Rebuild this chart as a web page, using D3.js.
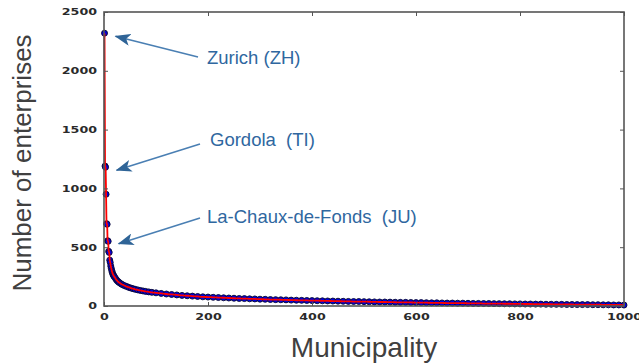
<!DOCTYPE html>
<html>
<head>
<meta charset="utf-8">
<script src="https://cdn.jsdelivr.net/npm/d3@7"></script>
<style>
  html, body { margin: 0; padding: 0; background: #fff; }
  svg { display: block; }
</style>
</head>
<body>
<div id="chart"></div>
<script>
// rank of municipality (sorted by number of enterprises)
const ranks = [
  1, 2, 3, 4, 5, 6, 7, 8, 9, 10, 11, 12, 13, 14, 15, 16, 17, 18, 19, 20,
  22, 24, 26, 28, 30, 33, 36, 40, 44, 48, 52, 56, 60, 65, 70, 75, 80, 86, 92, 100,
  110, 120, 130, 140, 150, 160, 170, 180, 190, 200,
  210, 220, 230, 240, 250, 260, 270, 280, 290, 300,
  310, 320, 330, 340, 350, 360, 370, 380, 390, 400,
  410, 420, 430, 440, 450, 460, 470, 480, 490, 500,
  510, 520, 530, 540, 550, 560, 570, 580, 590, 600,
  610, 620, 630, 640, 650, 660, 670, 680, 690, 700,
  710, 720, 730, 740, 750, 760, 770, 780, 790, 800,
  810, 820, 830, 840, 850, 860, 870, 880, 890, 900,
  910, 920, 930, 940, 950, 960, 970, 980, 990, 1000
];
// number of enterprises for each rank
const enterprises = [
  2320, 1190, 1180, 950, 700, 695, 555, 550, 465, 455, 390, 370, 340, 320, 300, 285, 272, 262, 255, 248,
  235, 222, 212, 204, 197, 188, 180, 172, 165, 158, 152, 147, 142, 137, 132, 128, 124, 120, 116, 112,
  107, 102, 98, 94, 90, 87, 84, 81, 78, 76,
  74, 72, 70, 68, 66, 64, 63, 61, 60, 58,
  57, 55, 54, 53, 52, 50, 49, 48, 47, 46,
  45, 44, 43, 42, 41, 40, 39, 38, 38, 37,
  36, 35, 34, 34, 33, 32, 31, 31, 30, 29,
  29, 28, 27, 27, 26, 25, 25, 24, 24, 23,
  22, 22, 21, 21, 20, 20, 19, 19, 18, 18,
  17, 17, 16, 16, 15, 15, 14, 14, 13, 13,
  12, 12, 12, 11, 11, 10, 10, 9, 9, 8
];
const xTicks = [0, 200, 400, 600, 800, 1000];
const yTicks = [0, 500, 1000, 1500, 2000, 2500];
// annotated municipalities: label and the rank they point at
const annotLabels = ['Zurich (ZH)', 'Gordola  (TI)', 'La-Chaux-de-Fonds  (JU)'];
const annotRanks = [1, 3, 7];

const W = 639, H = 364;
const m = { left: 104, right: 15, top: 12, bottom: 58 };
const pw = W - m.left - m.right, ph = H - m.top - m.bottom;

const data = ranks.map((r, i) => ({ r, v: enterprises[i] }));

const svg = d3.select('#chart').append('svg')
  .attr('width', W).attr('height', H);

const x = d3.scaleLinear().domain([0, 1000]).range([m.left, m.left + pw]);
const y = d3.scaleLinear().domain([0, 2500]).range([m.top + ph, m.top]);

// arrow marker
const defs = svg.append('defs');
defs.append('marker')
  .attr('id', 'ah')
  .attr('viewBox', '0 -6 16 12')
  .attr('refX', 15).attr('refY', 0)
  .attr('markerWidth', 16).attr('markerHeight', 12)
  .attr('markerUnits', 'userSpaceOnUse')
  .attr('orient', 'auto')
  .append('path')
  .attr('d', 'M16,0 L0,-6 L4,0 L0,6 Z')
  .attr('fill', '#2f6497');

// dots
svg.append('g')
  .selectAll('circle')
  .data(data)
  .join('circle')
  .attr('cx', d => x(d.r))
  .attr('cy', d => y(d.v))
  .attr('r', 3)
  .attr('fill', '#0000dd')
  .attr('stroke', '#0a0a30')
  .attr('stroke-width', 0.9);

// fitted line
svg.append('path')
  .datum(data)
  .attr('fill', 'none')
  .attr('stroke', '#ff0000')
  .attr('stroke-width', 1.8)
  .attr('d', d3.line().x(d => x(d.r)).y(d => y(d.v)).curve(d3.curveMonotoneX));

// axes with inward ticks
const tickStyle = g => {
  g.select('.domain').remove();
  g.selectAll('.tick line').attr('stroke', '#555');
  g.selectAll('.tick text')
    .attr('fill', '#2a2a2a')
    .attr('font-family', 'DejaVu Sans, sans-serif')
    .attr('font-weight', 600)
    .attr('font-size', 9)
    .attr('textLength', d => String(d).length * 8.8)
    .attr('lengthAdjust', 'spacingAndGlyphs');
};

svg.append('g')
  .attr('transform', `translate(0,${m.top + ph})`)
  .call(d3.axisBottom(x).tickValues(xTicks).tickFormat(d3.format('d')).tickSize(-4).tickPadding(8))
  .call(tickStyle);

svg.append('g')
  .attr('transform', `translate(${m.left},0)`)
  .call(d3.axisLeft(y).tickValues(yTicks).tickFormat(d3.format('d')).tickSize(-4).tickPadding(7))
  .call(tickStyle);

svg.append('g')
  .attr('transform', `translate(0,${m.top})`)
  .call(d3.axisTop(x).tickValues(xTicks).tickSize(-4).tickFormat(''))
  .call(g => { g.select('.domain').remove(); g.selectAll('.tick line').attr('stroke', '#555'); });

svg.append('g')
  .attr('transform', `translate(${m.left + pw},0)`)
  .call(d3.axisRight(y).tickValues(yTicks).tickSize(-4).tickFormat(''))
  .call(g => { g.select('.domain').remove(); g.selectAll('.tick line').attr('stroke', '#555'); });

// frame
svg.append('rect')
  .attr('x', m.left).attr('y', m.top)
  .attr('width', pw).attr('height', ph)
  .attr('fill', 'none')
  .attr('stroke', '#555')
  .attr('stroke-width', 1.6);

// axis titles
svg.append('text')
  .attr('x', 364).attr('y', 357)
  .attr('text-anchor', 'middle')
  .attr('font-family', 'Liberation Sans, Arial, sans-serif')
  .attr('font-size', 28)
  .attr('fill', '#404040')
  .text('Municipality');

svg.append('text')
  .attr('transform', 'translate(31,163) rotate(-90)')
  .attr('text-anchor', 'middle')
  .attr('font-family', 'Liberation Sans, Arial, sans-serif')
  .attr('font-size', 26)
  .attr('fill', '#404040')
  .text('Number of enterprises');

// annotations: text position and arrow tail are layout
const annotLayout = [
  { tx: 207, ty: 64, ax: 198, ay: 57 },
  { tx: 210, ty: 146, ax: 200, ay: 144 },
  { tx: 207, ty: 223, ax: 200, ay: 218 }
];
const annot = svg.append('g');
annotLabels.forEach((lab, i) => {
  const d = data[annotRanks[i] - 1];
  const L = annotLayout[i];
  const tipX = x(d.r) + 11, tipY = y(d.v) + 3;
  annot.append('line')
    .attr('x1', L.ax).attr('y1', L.ay)
    .attr('x2', tipX).attr('y2', tipY)
    .attr('stroke', '#4a7fb3')
    .attr('stroke-width', 1.6)
    .attr('marker-end', 'url(#ah)');
  annot.append('text')
    .attr('x', L.tx).attr('y', L.ty)
    .attr('font-family', 'Liberation Sans, Arial, sans-serif')
    .attr('font-size', 18.5)
    .attr('fill', '#2f67a0')
    .style('white-space', 'pre')
    .text(lab);
});
</script>
</body>
</html>
